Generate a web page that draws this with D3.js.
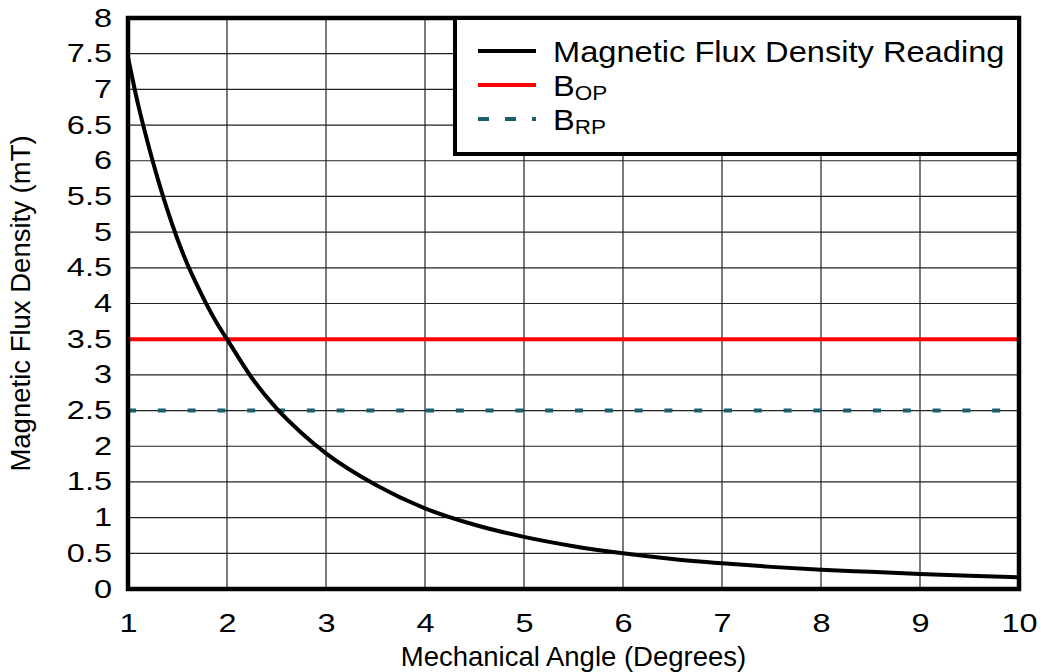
<!DOCTYPE html>
<html>
<head>
<meta charset="utf-8">
<script src="https://cdn.jsdelivr.net/npm/d3@7"></script>
<style>
  body { margin: 0; background: #fff; }
  text { font-family: "Liberation Sans", Arial, sans-serif; fill: #000; }
</style>
</head>
<body>
<div id="chart"></div>
<script>
// values
var angle = [1, 1.1, 1.2, 1.3, 1.4, 1.5, 1.6, 1.7, 1.8, 1.9, 2, 2.25, 2.5, 2.75, 3, 3.5, 4, 4.5, 5, 5.5, 6, 6.5, 7, 7.5, 8, 8.5, 9, 9.5, 10];
var flux = [7.45, 6.8, 6.25, 5.75, 5.3, 4.9, 4.55, 4.25, 3.97, 3.72, 3.5, 2.96, 2.53, 2.19, 1.9, 1.46, 1.13, 0.9, 0.73, 0.6, 0.5, 0.42, 0.36, 0.31, 0.27, 0.24, 0.21, 0.185, 0.165];
var bOP = 3.5, bRP = 2.5;
var xTicks = [1, 2, 3, 4, 5, 6, 7, 8, 9, 10];
var yTicks = [0, 0.5, 1, 1.5, 2, 2.5, 3, 3.5, 4, 4.5, 5, 5.5, 6, 6.5, 7, 7.5, 8];
var legendNames = ["Magnetic Flux Density Reading", "B", "B"];
var legendSubs = ["", "OP", "RP"];

var width = 1041, height = 672,
    margin = {top: 18, right: 22, bottom: 83, left: 128};
var w = width - margin.left - margin.right,
    h = height - margin.top - margin.bottom;

var svg = d3.select("#chart").append("svg")
    .attr("width", width).attr("height", height)
  .append("g")
    .attr("transform", `translate(${margin.left},${margin.top})`);

var x = d3.scaleLinear().domain([1, 10]).range([0, w]);
var y = d3.scaleLinear().domain([0, 8]).range([h, 0]);

// grid
svg.append("g").selectAll("line").data(xTicks.slice(1, -1)).enter().append("line")
  .attr("x1", d => x(d)).attr("x2", d => x(d)).attr("y1", 0).attr("y2", h)
  .style("stroke", "#222").style("stroke-width", 1.2);
svg.append("g").selectAll("line").data(yTicks.slice(1, -1)).enter().append("line")
  .attr("y1", d => y(d)).attr("y2", d => y(d)).attr("x1", 0).attr("x2", w)
  .style("stroke", "#222").style("stroke-width", 1.2);

// axes (labels only)
var xAxis = svg.append("g").attr("transform", `translate(0,${h})`)
  .call(d3.axisBottom(x).tickValues(xTicks).tickSize(0).tickFormat(d3.format("d")));
var yAxis = svg.append("g")
  .call(d3.axisLeft(y).tickValues(yTicks).tickSize(0).tickFormat(d => d));
[xAxis, yAxis].forEach(a => {
  a.select(".domain").remove();
  a.selectAll("text").style("font-size", "25px")
    .style("font-family", '"Liberation Sans", Arial, sans-serif').attr("fill", "#000");
});
xAxis.selectAll("text").attr("y", 0).attr("transform", "translate(0,25) scale(1.3,1)");
yAxis.selectAll("text").attr("x", 0).attr("transform", "translate(-16,0) scale(1.3,1)");

// reference lines
svg.append("line").attr("x1", 0).attr("x2", w).attr("y1", y(bOP)).attr("y2", y(bOP))
  .style("stroke", "#ff0000").style("stroke-width", 4);
svg.append("line").attr("x1", 0).attr("x2", w).attr("y1", y(bRP)).attr("y2", y(bRP))
  .style("stroke", "#1b5f6e").style("stroke-width", 4).style("stroke-dasharray", "8,21.8");

// curve
var line = d3.line().x((d, i) => x(angle[i])).y(d => y(d)).curve(d3.curveMonotoneX);
svg.append("path").datum(flux).attr("d", line)
  .style("fill", "none").style("stroke", "#000").style("stroke-width", 4);

// frame
svg.append("rect").attr("x", 0).attr("y", 0).attr("width", w).attr("height", h)
  .style("fill", "none").style("stroke", "#000").style("stroke-width", 4.5);

// legend
var lx = 455 - margin.left;
var lg = svg.append("g").attr("transform", `translate(${lx},0)`);
lg.append("rect").attr("x", 0).attr("y", 0).attr("width", w - lx).attr("height", 136)
  .style("fill", "#fff").style("stroke", "#000").style("stroke-width", 4);
var colors = ["#000", "#ff0000", "#1b5f6e"];
var rows = lg.selectAll(".row").data(legendNames).enter().append("g")
  .attr("transform", (d, i) => `translate(0,${33 + i * 34})`);
rows.append("line").attr("x1", 23).attr("x2", 81).attr("y1", 0).attr("y2", 0)
  .style("stroke", (d, i) => colors[i]).style("stroke-width", 4)
  .style("stroke-dasharray", (d, i) => i == 2 ? "11,16" : null);
var lt = rows.append("text").attr("transform", "translate(98,11) scale(1.125,1)").style("font-size", "29px");
lt.append("tspan").text(d => d);
lt.append("tspan").attr("dy", 4).style("font-size", "20px").text((d, i) => legendSubs[i]);

// axis titles
svg.append("text").attr("x", w / 2).attr("y", h + 77)
  .style("text-anchor", "middle").style("font-size", "27.5px").text("Mechanical Angle (Degrees)");
svg.append("text").attr("transform", "rotate(-90)")
  .attr("x", -h / 2).attr("y", -98)
  .style("text-anchor", "middle").style("font-size", "27.5px").text("Magnetic Flux Density (mT)");
</script>
</body>
</html>
